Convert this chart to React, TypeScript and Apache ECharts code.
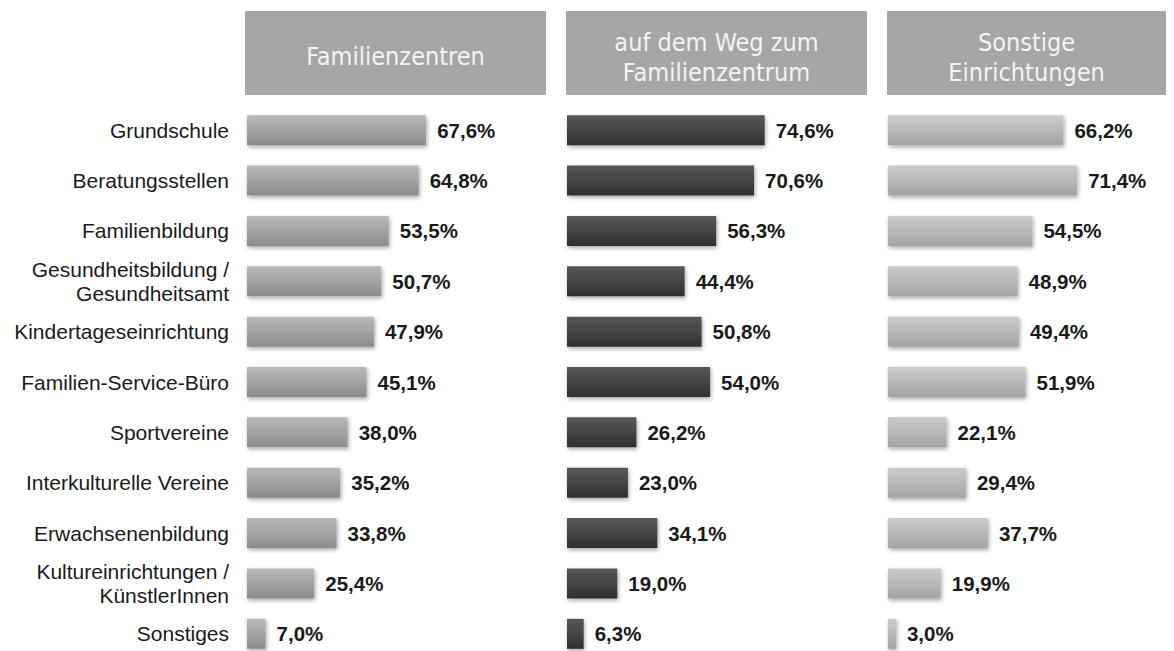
import React, { useEffect, useRef } from "react";
import * as echarts from "echarts";

const categories = [
  "Grundschule",
  "Beratungsstellen",
  "Familienbildung",
  "Gesundheitsbildung /\nGesundheitsamt",
  "Kindertageseinrichtung",
  "Familien-Service-Büro",
  "Sportvereine",
  "Interkulturelle Vereine",
  "Erwachsenenbildung",
  "Kultureinrichtungen /\nKünstlerInnen",
  "Sonstiges",
];

const panelTitles = [["Familienzentren"], ["auf dem Weg zum", "Familienzentrum"], ["Sonstige", "Einrichtungen"]];

const familienzentren = [67.6, 64.8, 53.5, 50.7, 47.9, 45.1, 38.0, 35.2, 33.8, 25.4, 7.0];
const aufDemWeg = [74.6, 70.6, 56.3, 44.4, 50.8, 54.0, 26.2, 23.0, 34.1, 19.0, 6.3];
const sonstigeEinrichtungen = [66.2, 71.4, 54.5, 48.9, 49.4, 51.9, 22.1, 29.4, 37.7, 19.9, 3.0];

const seriesData = [familienzentren, aufDemWeg, sonstigeEinrichtungen];

const gridLefts = [247, 567, 888];
const gridWidth = 265;
const headerBoxes = [
  { x: 245, w: 301 },
  { x: 566, w: 301 },
  { x: 887, w: 279 },
];

const gradients = [
  ["#b9b9b9", "#a3a3a3", "#8b8b8b"],
  ["#575757", "#454545", "#2f2f2f"],
  ["#cbcbcb", "#b8b8b8", "#a4a4a4"],
];

export default function App() {
  const ref = useRef<HTMLDivElement>(null);

  useEffect(() => {
    if (!ref.current) return;
    const chart = echarts.init(ref.current, undefined, { renderer: "svg" });

    const grids = gridLefts.map((left) => ({
      left,
      width: gridWidth,
      top: 105,
      height: 554,
      containLabel: false,
    }));

    const xAxes = gridLefts.map((_, i) => ({
      type: "value" as const,
      gridIndex: i,
      min: 0,
      max: 100,
      show: false,
      splitLine: { show: false },
    }));

    const yAxes = gridLefts.map((_, i) => ({
      type: "category" as const,
      gridIndex: i,
      data: categories,
      inverse: true,
      axisLine: { show: false },
      axisTick: { show: false },
      splitLine: { show: false },
      axisLabel: {
        show: i === 0,
        margin: 18,
        align: "right" as const,
        color: "#1a1a1a",
        fontSize: 21,
        lineHeight: 24,
        fontFamily: "Liberation Sans, Arial, sans-serif",
      },
    }));

    const series = seriesData.map((data, i) => ({
      type: "bar" as const,
      xAxisIndex: i,
      yAxisIndex: i,
      data,
      barWidth: 30,
      itemStyle: {
        color: new echarts.graphic.LinearGradient(0, 0, 0, 1, [
          { offset: 0, color: gradients[i][0] },
          { offset: 0.5, color: gradients[i][1] },
          { offset: 1, color: gradients[i][2] },
        ]),
        shadowBlur: 4,
        shadowOffsetY: 2,
        shadowOffsetX: 1,
        shadowColor: "rgba(0,0,0,0.35)",
      },
      label: {
        show: true,
        position: "right" as const,
        distance: 11,
        color: "#1a1a1a",
        fontSize: 20.5,
        fontWeight: "bold" as const,
        fontFamily: "Liberation Sans, Arial, sans-serif",
        formatter: (p: any) => p.value.toFixed(1).replace(".", ",") + "%",
      },
    }));

    const graphic: any[] = [];
    headerBoxes.forEach((b, i) => {
      graphic.push({
        type: "rect",
        left: b.x,
        top: 11,
        shape: { width: b.w, height: 84 },
        style: { fill: "#a6a6a6" },
        silent: true,
      });
      const lines = panelTitles[i];
      lines.forEach((line, j) => {
        const y = lines.length === 1 ? 56 : 42 + j * 30;
        graphic.push({
          type: "text",
          x: b.x + b.w / 2,
          y,
          style: {
            text: line,
            fill: "#f4f4f4",
            font: "25px 'DejaVu Sans Condensed', 'Liberation Sans', sans-serif",
            align: "center",
            verticalAlign: "middle",
          },
          silent: true,
        });
      });
    });

    chart.setOption({
      animation: false,
      backgroundColor: "#ffffff",
      grid: grids,
      xAxis: xAxes,
      yAxis: yAxes,
      series,
      graphic,
    });

    return () => chart.dispose();
  }, []);

  return (
    <div style={{ position: "absolute", left: 0, top: 0, width: 1174, height: 651, overflow: "hidden" }}>
      <div ref={ref} style={{ width: 1174, height: 700 }} />
    </div>
  );
}
